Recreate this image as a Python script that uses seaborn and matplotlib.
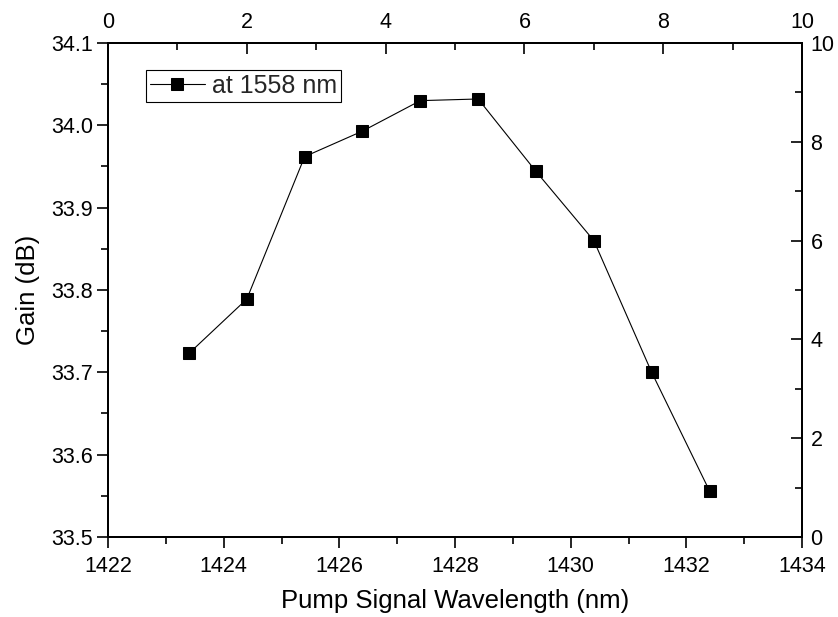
import matplotlib
matplotlib.use("Agg")
import matplotlib.pyplot as plt
from matplotlib.ticker import MultipleLocator
import seaborn as sns
import pandas as pd

# values
wavelength = [1423.4, 1424.4, 1425.4, 1426.4, 1427.4, 1428.4, 1429.4, 1430.4, 1431.4, 1432.4]
gain = [33.723, 33.789, 33.962, 33.993, 34.030, 34.032, 33.944, 33.860, 33.700, 33.556]
series_label = "at 1558 nm"

df = pd.DataFrame({"wavelength": wavelength, "gain": gain})

sns.set_theme(style="white")
plt.rcParams["font.family"] = ["Liberation Sans", "DejaVu Sans"]
plt.rcParams["axes.linewidth"] = 1.3

fig = plt.figure(figsize=(8.38, 6.17), dpi=100)
ax = fig.add_axes([0.1289, 0.1297, 0.8282, 0.8006])

sns.lineplot(data=df, x="wavelength", y="gain", ax=ax, color="black",
             linewidth=0.8, marker="s", markersize=8, markeredgecolor="black",
             markerfacecolor="black", label=series_label)

ax.set_xlim(1422, 1434)
ax.set_ylim(33.5, 34.1)
ax.xaxis.set_major_locator(MultipleLocator(2))
ax.xaxis.set_minor_locator(MultipleLocator(1))
ax.yaxis.set_major_locator(MultipleLocator(0.1))
ax.yaxis.set_minor_locator(MultipleLocator(0.05))
ax.yaxis.set_major_formatter(plt.FormatStrFormatter("%.1f"))
ax.tick_params(which="both", direction="out", colors="black", labelsize=15.5,
               width=1.2, top=False, right=False, pad=3)
ax.tick_params(axis="x", pad=6)
ax.tick_params(which="major", length=8)
ax.tick_params(which="minor", length=5)
ax.set_xlabel("Pump Signal Wavelength (nm)", fontsize=18.5, color="black", labelpad=8)
ax.set_ylabel("Gain (dB)", fontsize=18.5, color="black", labelpad=8)
for s in ax.spines.values():
    s.set_color("black")

# secondary axes (top and right), 0-10
ax_top = ax.twiny()
ax_top.set_xlim(0, 10)
ax_top.xaxis.set_major_locator(MultipleLocator(2))
ax_top.xaxis.set_minor_locator(MultipleLocator(1))
ax_top.tick_params(which="both", direction="in", colors="black", labelsize=15.5,
                   width=1.2, pad=7)
ax_top.tick_params(which="major", length=8)
ax_top.tick_params(which="minor", length=5)

ax_right = ax.twinx()
ax_right.set_ylim(0, 10)
ax_right.yaxis.set_major_locator(MultipleLocator(2))
ax_right.yaxis.set_minor_locator(MultipleLocator(1))
ax_right.tick_params(which="both", direction="in", colors="black", labelsize=15.5,
                     width=1.2, pad=6)
ax_right.tick_params(which="major", length=8)
ax_right.tick_params(which="minor", length=5)
for a in (ax_top, ax_right):
    for s in a.spines.values():
        s.set_color("black")

leg = ax.legend(loc="upper left", bbox_to_anchor=(0.055, 0.945), fontsize=18,
                frameon=True, fancybox=False, edgecolor="black", framealpha=1,
                borderpad=0.15, handlelength=2.2, handletextpad=0.3, borderaxespad=0)
leg.get_frame().set_linewidth(0.8)

fig.savefig("out.png", dpi=100)
